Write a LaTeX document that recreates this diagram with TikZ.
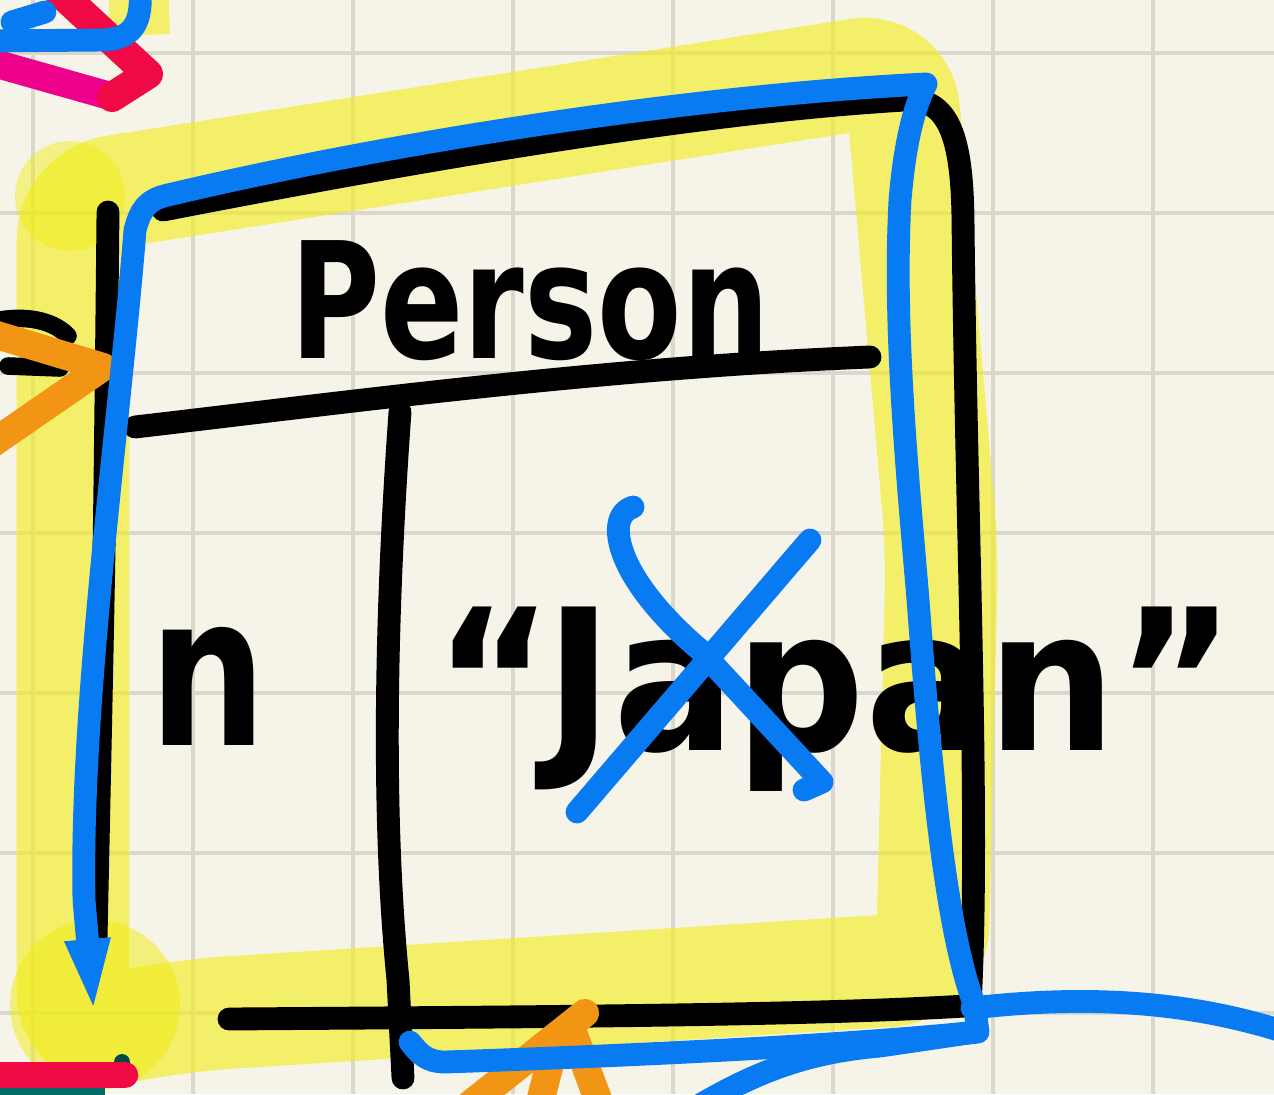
\documentclass[tikz,border=0pt]{standalone}
\usepackage{fontspec}
\setmainfont{DejaVu Sans}
\usetikzlibrary{arrows.meta}
\definecolor{PaperClr}{rgb}{0.965,0.957,0.910}
\definecolor{GridClr}{rgb}{0.86,0.845,0.80}
\definecolor{HiliteClr}{rgb}{0.95,0.93,0.15}
\definecolor{BlobClr}{rgb}{0.94,0.93,0.05}
\definecolor{InkClr}{rgb}{0,0,0}
\definecolor{FlowClr}{rgb}{0.03,0.48,0.95}
\definecolor{OrangeClr}{rgb}{0.95,0.58,0.08}
\definecolor{RedClr}{rgb}{0.94,0.04,0.27}
\definecolor{PinkClr}{rgb}{0.93,0.0,0.55}
\definecolor{TealClr}{rgb}{0.0,0.42,0.40}

\begin{document}
\begin{tikzpicture}[x=0.01cm,y=-0.01cm,
  gridline/.style={GridClr,line width=1.2pt},
  hilite/.style={HiliteClr,opacity=.65,line width=32pt,line join=round,rounded corners=12pt},
  ink/.style={InkClr,line width=6.5pt,line cap=round,line join=round},
  flow/.style={FlowClr,line width=6.5pt,line cap=round,line join=round},
  marker/.style={line width=8pt,line cap=round,line join=round},
  hand/.style={anchor=base,inner sep=0pt,text=InkClr,font=\bfseries}]

\useasboundingbox (0,0) rectangle (1274,1094);
\clip (0,0) rectangle (1274,1094);
\fill[PaperClr] (0,0) rectangle (1274,1094);

\foreach \gx in {33,193,...,1153} \draw[gridline] (\gx,0) -- (\gx,1094);
\foreach \gy in {53,213,...,1013} \draw[gridline] (0,\gy) -- (1274,\gy);

\draw[hilite] (73,1035) -- (73,198) -- (900,68) -- (942,550) -- (932,968) -- (190,1015) -- cycle;
\draw[hilite,line width=17pt] (138,-20) -- (140,35);
\fill[BlobClr,opacity=.45] (70,196) circle (55);
\fill[BlobClr,opacity=.5] (95,1005) circle (85);

\draw[ink] plot[smooth] coordinates {(108,212) (104,550) (96,940)};
\draw[ink] (163,210) .. controls (420,160) and (700,112) .. (905,100)
  .. controls (950,97) and (962,140) .. (963,220)
  .. controls (966,520) and (980,820) .. (970,1006);
\draw[ink] (229,1019) .. controls (500,1017) and (800,1016) .. (965,1006);
\draw[ink] (135,427) .. controls (350,402) and (600,368) .. (870,357);
\draw[ink] (400,412) .. controls (385,620) and (382,820) .. (398,980) -- (403,1078);

\node[hand] (title) at (530,358) {\fontsize{46}{46}\selectfont\scalebox{0.76}[1]{Person}};
\node[hand] (attr) at (208,745) {\fontsize{60}{60}\selectfont\scalebox{0.78}[1]{n}};
\node[hand] (val) at (835,750) {\fontsize{56}{56}\selectfont\scalebox{0.92}[1]{“Japan”}};

\draw[ink,line width=5pt] (0,320) .. controls (30,315) and (55,322) .. (68,336);
\draw[ink,line width=5pt] (8,366) -- (60,368);
\draw[marker,OrangeClr] (-10,333) -- (103,367) -- (-10,445);
\draw[marker,OrangeClr] (463,1110) -- (585,1013);
\draw[marker,OrangeClr] (572,1030) -- (602,1110);
\draw[marker,OrangeClr] (556,1040) -- (538,1110);

\draw[marker,PinkClr] (-10,62) -- (110,96);
\draw[marker,RedClr,line width=8.5pt] (55,-12) -- (148,74) -- (112,97);
\draw[TealClr,line width=4pt] (-5,1092) -- (105,1092);
\fill[TealClr!70!black] (122,1062) circle (8);
\draw[marker,RedClr,line width=7.5pt] (-10,1075) -- (125,1075);

\draw[flow] (-10,41) -- (105,40) .. controls (135,38) and (142,20) .. (140,-10);
\draw[flow] (12,22) -- (45,12);

\draw[flow,-{Triangle[length=7.5mm,width=4mm]}] (975,1006)
  .. controls (945,930) and (930,760) .. (918,600)
  .. controls (908,480) and (893,330) .. (900,200)
  .. controls (905,140) and (915,105) .. (926,84)
  .. controls (700,95) and (400,140) .. (168,195)
  .. controls (145,200) and (140,212) .. (135,230)
  .. controls (120,420) and (80,700) .. (84,900) -- (94,1014);
\draw[flow] (972,1008) .. controls (1060,998) and (1170,995) .. (1285,1032);
\draw[flow] (410,1042) .. controls (420,1055) and (428,1062) .. (445,1062)
  .. controls (650,1055) and (850,1045) .. (978,1032) -- (975,1010);
\draw[flow] (700,1105) .. controls (760,1070) and (810,1052) .. (880,1046) -- (975,1032);

\draw[flow] (633,507) .. controls (605,515) and (612,575) .. (700,650) -- (822,782) -- (804,790);
\draw[flow] (810,540) -- (577,812);

\end{tikzpicture}
\end{document}
